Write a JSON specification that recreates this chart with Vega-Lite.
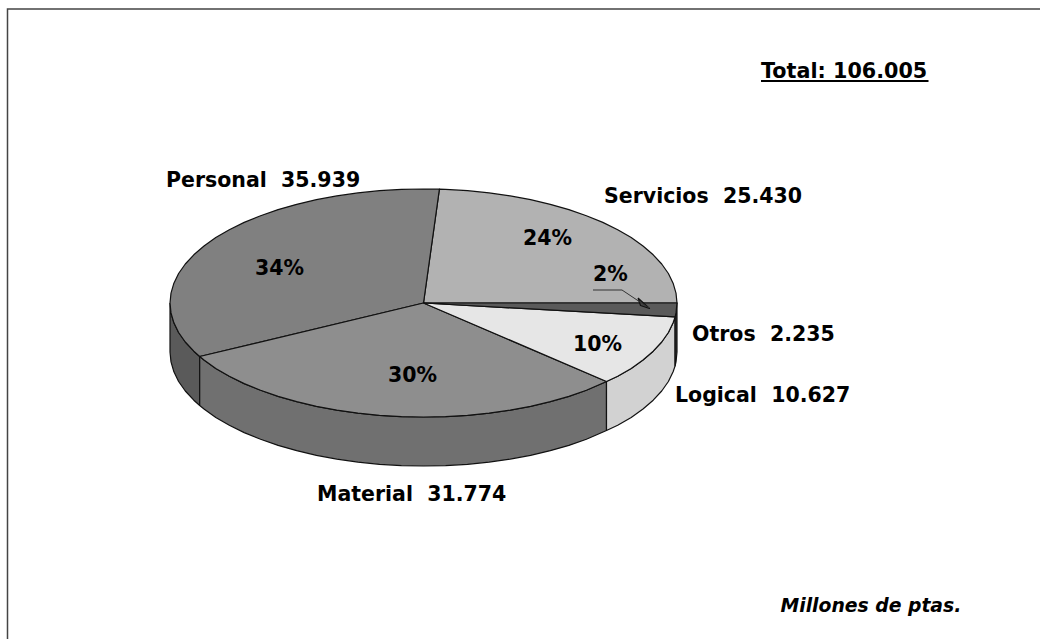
{
"$schema":"https://vega.github.io/schema/vega-lite/v6.json",
"width":1040,"height":639,"padding":0,
"autosize":{"type":"none"},
"background":"#ffffff",
"config":{"view":{"stroke":null}},
"datasets":{
"poligonos":[
{"p":"Personal lateral","i":0,"x":-253.5,"y":0},{"p":"Personal lateral","i":1,"x":-252.5,"y":-9.9},{"p":"Personal lateral","i":2,"x":-249.6,"y":-19.8},{"p":"Personal lateral","i":3,"x":-244.9,"y":-29.5},{"p":"Personal lateral","i":4,"x":-238.2,"y":-39},{"p":"Personal lateral","i":5,"x":-229.7,"y":-48.2},{"p":"Personal lateral","i":6,"x":-223.8,"y":-53.5},{"p":"Personal lateral","i":7,"x":-223.8,"y":-102.5},{"p":"Personal lateral","i":8,"x":-229.7,"y":-97.2},{"p":"Personal lateral","i":9,"x":-238.2,"y":-88},{"p":"Personal lateral","i":10,"x":-244.9,"y":-78.5},{"p":"Personal lateral","i":11,"x":-249.6,"y":-68.8},{"p":"Personal lateral","i":12,"x":-252.5,"y":-58.9},{"p":"Personal lateral","i":13,"x":-253.5,"y":-49},{"p":"Personal lateral","i":14,"x":-253.5,"y":0},
{"p":"Material lateral","i":0,"x":-223.8,"y":-53.5},{"p":"Material lateral","i":1,"x":-219.5,"y":-57},{"p":"Material lateral","i":2,"x":-207.7,"y":-65.4},{"p":"Material lateral","i":3,"x":-194.2,"y":-73.3},{"p":"Material lateral","i":4,"x":-179.3,"y":-80.6},{"p":"Material lateral","i":5,"x":-162.9,"y":-87.3},{"p":"Material lateral","i":6,"x":-145.4,"y":-93.4},{"p":"Material lateral","i":7,"x":-126.8,"y":-98.7},{"p":"Material lateral","i":8,"x":-107.1,"y":-103.3},{"p":"Material lateral","i":9,"x":-86.7,"y":-107.1},{"p":"Material lateral","i":10,"x":-65.6,"y":-110.1},{"p":"Material lateral","i":11,"x":-44,"y":-112.3},{"p":"Material lateral","i":12,"x":-22.1,"y":-113.6},{"p":"Material lateral","i":13,"x":0,"y":-114},{"p":"Material lateral","i":14,"x":22.1,"y":-113.6},{"p":"Material lateral","i":15,"x":44,"y":-112.3},{"p":"Material lateral","i":16,"x":65.6,"y":-110.1},{"p":"Material lateral","i":17,"x":86.7,"y":-107.1},{"p":"Material lateral","i":18,"x":107.1,"y":-103.3},{"p":"Material lateral","i":19,"x":126.8,"y":-98.7},{"p":"Material lateral","i":20,"x":145.4,"y":-93.4},{"p":"Material lateral","i":21,"x":162.9,"y":-87.3},{"p":"Material lateral","i":22,"x":183,"y":-78.5},
{"p":"Material lateral","i":23,"x":183,"y":-127.5},{"p":"Material lateral","i":24,"x":162.9,"y":-136.3},{"p":"Material lateral","i":25,"x":145.4,"y":-142.4},{"p":"Material lateral","i":26,"x":126.8,"y":-147.7},{"p":"Material lateral","i":27,"x":107.1,"y":-152.3},{"p":"Material lateral","i":28,"x":86.7,"y":-156.1},{"p":"Material lateral","i":29,"x":65.6,"y":-159.1},{"p":"Material lateral","i":30,"x":44,"y":-161.3},{"p":"Material lateral","i":31,"x":22.1,"y":-162.6},{"p":"Material lateral","i":32,"x":0,"y":-163},{"p":"Material lateral","i":33,"x":-22.1,"y":-162.6},{"p":"Material lateral","i":34,"x":-44,"y":-161.3},{"p":"Material lateral","i":35,"x":-65.6,"y":-159.1},{"p":"Material lateral","i":36,"x":-86.7,"y":-156.1},{"p":"Material lateral","i":37,"x":-107.1,"y":-152.3},{"p":"Material lateral","i":38,"x":-126.8,"y":-147.7},{"p":"Material lateral","i":39,"x":-145.4,"y":-142.4},{"p":"Material lateral","i":40,"x":-162.9,"y":-136.3},{"p":"Material lateral","i":41,"x":-179.3,"y":-129.6},{"p":"Material lateral","i":42,"x":-194.2,"y":-122.3},{"p":"Material lateral","i":43,"x":-207.7,"y":-114.4},{"p":"Material lateral","i":44,"x":-219.5,"y":-106},{"p":"Material lateral","i":45,"x":-223.8,"y":-102.5},{"p":"Material lateral","i":46,"x":-223.8,"y":-53.5},
{"p":"Logical lateral","i":0,"x":183,"y":-78.5},{"p":"Logical lateral","i":1,"x":194.2,"y":-73.3},{"p":"Logical lateral","i":2,"x":207.7,"y":-65.4},{"p":"Logical lateral","i":3,"x":219.5,"y":-57},{"p":"Logical lateral","i":4,"x":229.7,"y":-48.2},{"p":"Logical lateral","i":5,"x":238.2,"y":-39},{"p":"Logical lateral","i":6,"x":244.9,"y":-29.5},{"p":"Logical lateral","i":7,"x":249.6,"y":-19.8},{"p":"Logical lateral","i":8,"x":251.6,"y":-13.9},{"p":"Logical lateral","i":9,"x":251.6,"y":-62.9},{"p":"Logical lateral","i":10,"x":249.6,"y":-68.8},{"p":"Logical lateral","i":11,"x":244.9,"y":-78.5},{"p":"Logical lateral","i":12,"x":238.2,"y":-88},{"p":"Logical lateral","i":13,"x":229.7,"y":-97.2},{"p":"Logical lateral","i":14,"x":219.5,"y":-106},{"p":"Logical lateral","i":15,"x":207.7,"y":-114.4},{"p":"Logical lateral","i":16,"x":194.2,"y":-122.3},{"p":"Logical lateral","i":17,"x":183,"y":-127.5},{"p":"Logical lateral","i":18,"x":183,"y":-78.5},
{"p":"Otros lateral","i":0,"x":251.6,"y":-13.9},{"p":"Otros lateral","i":1,"x":252.5,"y":-9.9},{"p":"Otros lateral","i":2,"x":253.5,"y":0},{"p":"Otros lateral","i":3,"x":253.5,"y":-49},{"p":"Otros lateral","i":4,"x":252.5,"y":-58.9},{"p":"Otros lateral","i":5,"x":251.6,"y":-62.9},{"p":"Otros lateral","i":6,"x":251.6,"y":-13.9},
{"p":"Servicios","i":0,"x":0,"y":0},{"p":"Servicios","i":1,"x":253.5,"y":0},{"p":"Servicios","i":2,"x":252.5,"y":9.9},{"p":"Servicios","i":3,"x":249.6,"y":19.8},{"p":"Servicios","i":4,"x":244.9,"y":29.5},{"p":"Servicios","i":5,"x":238.2,"y":39},{"p":"Servicios","i":6,"x":229.7,"y":48.2},{"p":"Servicios","i":7,"x":219.5,"y":57},{"p":"Servicios","i":8,"x":207.7,"y":65.4},{"p":"Servicios","i":9,"x":194.2,"y":73.3},{"p":"Servicios","i":10,"x":179.3,"y":80.6},{"p":"Servicios","i":11,"x":162.9,"y":87.3},{"p":"Servicios","i":12,"x":145.4,"y":93.4},{"p":"Servicios","i":13,"x":126.8,"y":98.7},{"p":"Servicios","i":14,"x":107.1,"y":103.3},{"p":"Servicios","i":15,"x":86.7,"y":107.1},{"p":"Servicios","i":16,"x":65.6,"y":110.1},{"p":"Servicios","i":17,"x":44,"y":112.3},{"p":"Servicios","i":18,"x":22.1,"y":113.6},{"p":"Servicios","i":19,"x":15.9,"y":113.8},{"p":"Servicios","i":20,"x":0,"y":0},
{"p":"Personal","i":0,"x":0,"y":0},{"p":"Personal","i":1,"x":15.9,"y":113.8},{"p":"Personal","i":2,"x":0,"y":114},{"p":"Personal","i":3,"x":-22.1,"y":113.6},{"p":"Personal","i":4,"x":-44,"y":112.3},{"p":"Personal","i":5,"x":-65.6,"y":110.1},{"p":"Personal","i":6,"x":-86.7,"y":107.1},{"p":"Personal","i":7,"x":-107.1,"y":103.3},{"p":"Personal","i":8,"x":-126.8,"y":98.7},{"p":"Personal","i":9,"x":-145.4,"y":93.4},{"p":"Personal","i":10,"x":-162.9,"y":87.3},{"p":"Personal","i":11,"x":-179.3,"y":80.6},{"p":"Personal","i":12,"x":-194.2,"y":73.3},{"p":"Personal","i":13,"x":-207.7,"y":65.4},{"p":"Personal","i":14,"x":-219.5,"y":57},{"p":"Personal","i":15,"x":-229.7,"y":48.2},{"p":"Personal","i":16,"x":-238.2,"y":39},{"p":"Personal","i":17,"x":-244.9,"y":29.5},{"p":"Personal","i":18,"x":-249.6,"y":19.8},{"p":"Personal","i":19,"x":-252.5,"y":9.9},{"p":"Personal","i":20,"x":-253.5,"y":0},{"p":"Personal","i":21,"x":-252.5,"y":-9.9},{"p":"Personal","i":22,"x":-249.6,"y":-19.8},{"p":"Personal","i":23,"x":-244.9,"y":-29.5},{"p":"Personal","i":24,"x":-238.2,"y":-39},{"p":"Personal","i":25,"x":-229.7,"y":-48.2},{"p":"Personal","i":26,"x":-223.8,"y":-53.5},{"p":"Personal","i":27,"x":0,"y":0},
{"p":"Material","i":0,"x":0,"y":0},{"p":"Material","i":1,"x":-223.8,"y":-53.5},{"p":"Material","i":2,"x":-219.5,"y":-57},{"p":"Material","i":3,"x":-207.7,"y":-65.4},{"p":"Material","i":4,"x":-194.2,"y":-73.3},{"p":"Material","i":5,"x":-179.3,"y":-80.6},{"p":"Material","i":6,"x":-162.9,"y":-87.3},{"p":"Material","i":7,"x":-145.4,"y":-93.4},{"p":"Material","i":8,"x":-126.8,"y":-98.7},{"p":"Material","i":9,"x":-107.1,"y":-103.3},{"p":"Material","i":10,"x":-86.7,"y":-107.1},{"p":"Material","i":11,"x":-65.6,"y":-110.1},{"p":"Material","i":12,"x":-44,"y":-112.3},{"p":"Material","i":13,"x":-22.1,"y":-113.6},{"p":"Material","i":14,"x":0,"y":-114},{"p":"Material","i":15,"x":22.1,"y":-113.6},{"p":"Material","i":16,"x":44,"y":-112.3},{"p":"Material","i":17,"x":65.6,"y":-110.1},{"p":"Material","i":18,"x":86.7,"y":-107.1},{"p":"Material","i":19,"x":107.1,"y":-103.3},{"p":"Material","i":20,"x":126.8,"y":-98.7},{"p":"Material","i":21,"x":145.4,"y":-93.4},{"p":"Material","i":22,"x":162.9,"y":-87.3},{"p":"Material","i":23,"x":183,"y":-78.5},{"p":"Material","i":24,"x":0,"y":0},
{"p":"Logical","i":0,"x":0,"y":0},{"p":"Logical","i":1,"x":183,"y":-78.5},{"p":"Logical","i":2,"x":194.2,"y":-73.3},{"p":"Logical","i":3,"x":207.7,"y":-65.4},{"p":"Logical","i":4,"x":219.5,"y":-57},{"p":"Logical","i":5,"x":229.7,"y":-48.2},{"p":"Logical","i":6,"x":238.2,"y":-39},{"p":"Logical","i":7,"x":244.9,"y":-29.5},{"p":"Logical","i":8,"x":249.6,"y":-19.8},{"p":"Logical","i":9,"x":251.6,"y":-13.9},{"p":"Logical","i":10,"x":0,"y":0},
{"p":"Otros","i":0,"x":0,"y":0},{"p":"Otros","i":1,"x":251.6,"y":-13.9},{"p":"Otros","i":2,"x":252.5,"y":-9.9},{"p":"Otros","i":3,"x":253.5,"y":0},{"p":"Otros","i":4,"x":0,"y":0},
{"p":"Flecha","i":0,"x":214.5,"y":5},{"p":"Flecha","i":1,"x":217,"y":-2.5},{"p":"Flecha","i":2,"x":226,"y":-5.5},{"p":"Flecha","i":3,"x":214.5,"y":5}
],
"trazos":[
{"t":"marco","i":0,"x":-416,"y":-336},{"t":"marco","i":1,"x":-416,"y":294},{"t":"marco","i":2,"x":616.5,"y":294},
{"t":"guia","i":0,"x":169.5,"y":13},{"t":"guia","i":1,"x":198.5,"y":13},{"t":"guia","i":2,"x":225.5,"y":-5},
{"t":"subrayado","i":0,"x":337.5,"y":222},{"t":"subrayado","i":1,"x":505,"y":222}
],
"textos":[
{"label":"Personal \u00a035.939","x":-257.5,"y":116.5},
{"label":"Servicios \u00a025.430","x":180.5,"y":100},
{"label":"Otros \u00a02.235","x":268.5,"y":-38},
{"label":"Logical \u00a010.627","x":251.5,"y":-99},
{"label":"Material \u00a031.774","x":-106.5,"y":-197.5},
{"label":"34%","x":-168.5,"y":28},
{"label":"24%","x":99.5,"y":58},
{"label":"2%","x":169.5,"y":22.5},
{"label":"10%","x":149.5,"y":-48},
{"label":"30%","x":-35.5,"y":-79}
],
"total":[{"label":"Total: 106.005","x":337.5,"y":225}],
"notas":[{"label":"Millones de ptas.","x":357,"y":-309}]
},
"layer":[
{"data":{"name":"poligonos"},
 "mark":{"type":"line","stroke":"#111111","strokeWidth":1.2,"strokeJoin":"round"},
 "encoding":{
  "x":{"field":"x","type":"quantitative","scale":{"domain":[-423.5,616.5],"nice":false,"zero":false},"axis":null},
  "y":{"field":"y","type":"quantitative","scale":{"domain":[-336,303],"nice":false,"zero":false},"axis":null},
  "order":{"field":"i","type":"quantitative"},
  "fill":{"field":"p","type":"nominal","legend":null,"scale":{
   "domain":["Personal lateral","Material lateral","Logical lateral","Otros lateral","Servicios","Personal","Material","Logical","Otros","Flecha"],
   "range":["#5a5a5a","#707070","#d2d2d2","#333333","#b2b2b2","#808080","#8e8e8e","#e6e6e6","#5a5a5a","#444444"]}}
 }},
{"data":{"name":"trazos"},"transform":[{"filter":"datum.t==='marco'"}],
 "mark":{"type":"line","stroke":"#444444","strokeWidth":1.5},
 "encoding":{"x":{"field":"x","type":"quantitative"},"y":{"field":"y","type":"quantitative"},"order":{"field":"i","type":"quantitative"}}},
{"data":{"name":"trazos"},"transform":[{"filter":"datum.t==='guia'"}],
 "mark":{"type":"line","stroke":"#333333","strokeWidth":1},
 "encoding":{"x":{"field":"x","type":"quantitative"},"y":{"field":"y","type":"quantitative"},"order":{"field":"i","type":"quantitative"}}},
{"data":{"name":"trazos"},"transform":[{"filter":"datum.t==='subrayado'"}],
 "mark":{"type":"line","stroke":"#000000","strokeWidth":2},
 "encoding":{"x":{"field":"x","type":"quantitative"},"y":{"field":"y","type":"quantitative"},"order":{"field":"i","type":"quantitative"}}},
{"data":{"name":"textos"},
 "mark":{"type":"text","align":"left","baseline":"alphabetic","font":"DejaVu Sans","fontWeight":"bold","fontSize":20.5,"fill":"#000000"},
 "encoding":{"x":{"field":"x","type":"quantitative"},"y":{"field":"y","type":"quantitative"},"text":{"field":"label"}}},
{"data":{"name":"total"},
 "mark":{"type":"text","align":"left","baseline":"alphabetic","font":"DejaVu Sans","fontWeight":"bold","fontSize":20.7,"fill":"#000000"},
 "encoding":{"x":{"field":"x","type":"quantitative"},"y":{"field":"y","type":"quantitative"},"text":{"field":"label"}}},
{"data":{"name":"notas"},
 "mark":{"type":"text","align":"left","baseline":"alphabetic","font":"DejaVu Sans","fontWeight":"bold","fontStyle":"italic","fontSize":18.8,"fill":"#000000"},
 "encoding":{"x":{"field":"x","type":"quantitative"},"y":{"field":"y","type":"quantitative"},"text":{"field":"label"}}}
]
}
